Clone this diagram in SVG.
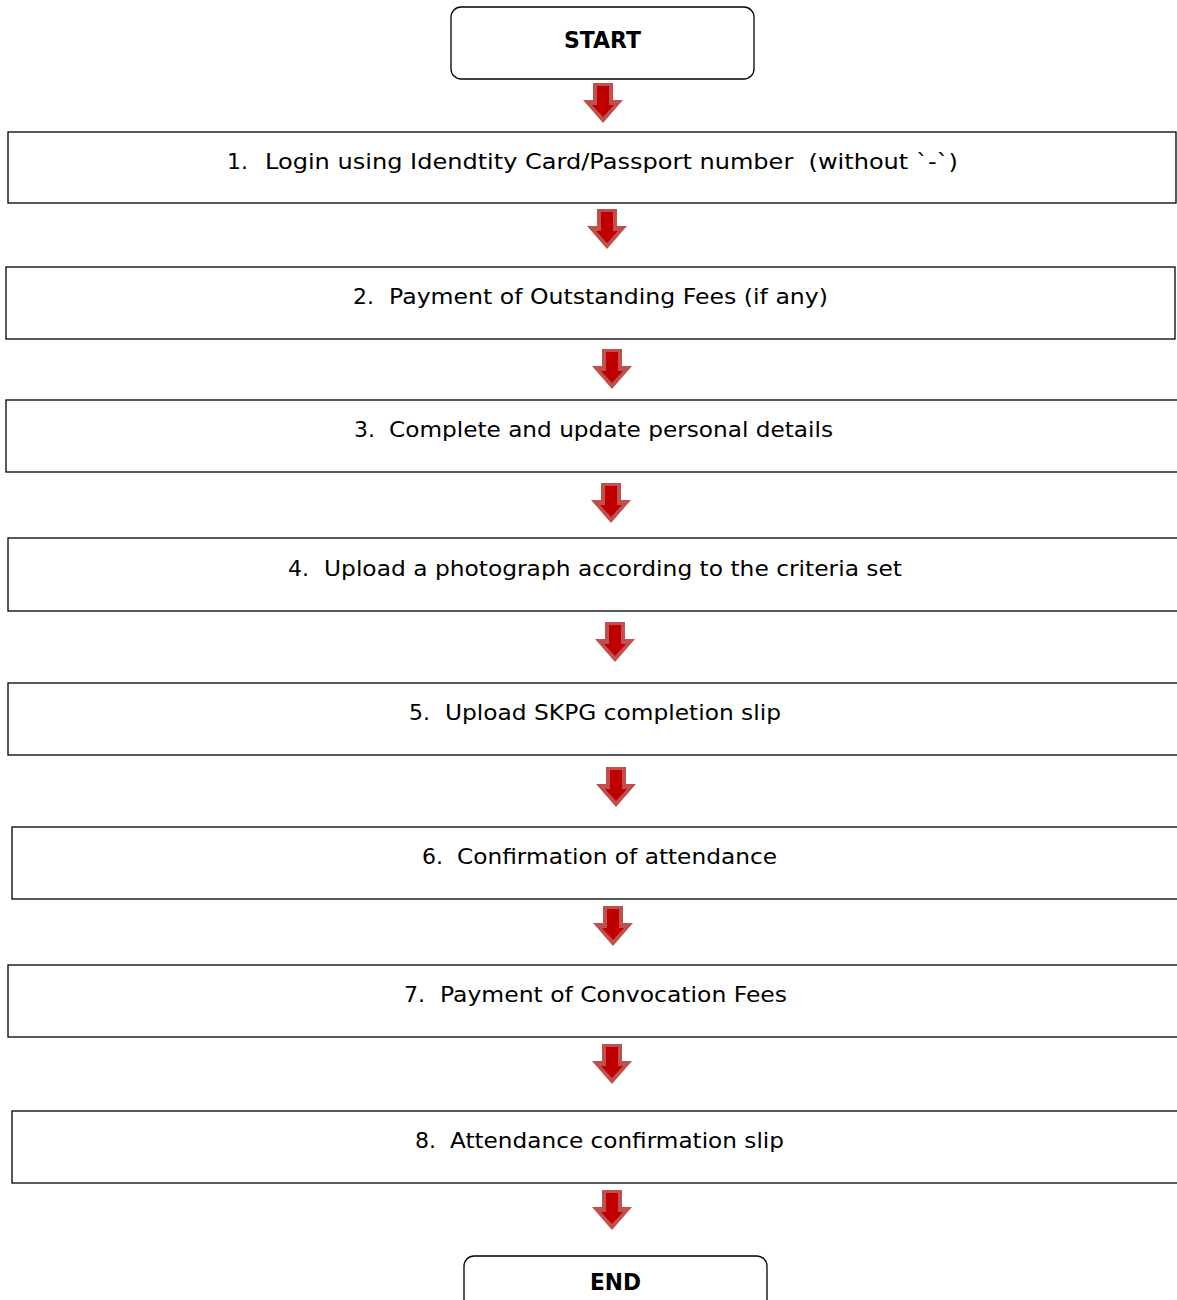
<svg xmlns="http://www.w3.org/2000/svg" width="1177" height="1300" viewBox="0 0 1177 1300">
<defs>
<style>
.box{fill:#fff;stroke:#000;stroke-width:1.3}
.t{font-family:"DejaVu Sans",Verdana,sans-serif;font-size:22px;fill:#000}
.b{font-family:"DejaVu Sans",Verdana,sans-serif;font-size:23px;font-weight:bold;fill:#000}
.ao{fill:#c0504d}
.ai{fill:#c00000}
</style>
<g id="arrow">
<polygon class="ao" points="-10,0 10,0 10,17 20,17 0,40 -20,17 -10,17"/>
<polygon class="ai" points="-6,3 6,3 6,22 11,22 0,34 -11,22 -6,22"/>
</g>
</defs>
<rect width="1177" height="1300" fill="#fff"/>
<g id="connectors">
<use href="#arrow" x="603" y="83"/>
<use href="#arrow" x="607" y="209"/>
<use href="#arrow" x="612" y="349"/>
<use href="#arrow" x="611" y="483"/>
<use href="#arrow" x="615" y="622"/>
<use href="#arrow" x="616" y="767"/>
<use href="#arrow" x="613" y="906"/>
<use href="#arrow" x="612" y="1044"/>
<use href="#arrow" x="612" y="1190"/>
</g>
<g id="start">
<rect class="box" x="451" y="7" width="303" height="72" rx="10"/>
<text class="b" x="564" y="48" textLength="77" lengthAdjust="spacingAndGlyphs">START</text>
</g>
<g id="step1">
<rect class="box" x="8" y="132" width="1168" height="71"/>
<text class="t" x="227" y="169">1.</text>
<text class="t" x="265" y="169" textLength="693" lengthAdjust="spacingAndGlyphs">Login using Idendtity Card/Passport number &#160;(without `-`)</text>
</g>
<g id="step2">
<rect class="box" x="6" y="267" width="1169" height="72"/>
<text class="t" x="353" y="304">2.</text>
<text class="t" x="389" y="304" textLength="439" lengthAdjust="spacingAndGlyphs">Payment of Outstanding Fees (if any)</text>
</g>
<g id="step3">
<rect class="box" x="6" y="400" width="1180" height="72"/>
<text class="t" x="354" y="437">3.</text>
<text class="t" x="389" y="437" textLength="444" lengthAdjust="spacingAndGlyphs">Complete and update personal details</text>
</g>
<g id="step4">
<rect class="box" x="8" y="538" width="1180" height="73"/>
<text class="t" x="288" y="576">4.</text>
<text class="t" x="324" y="576" textLength="578" lengthAdjust="spacingAndGlyphs">Upload a photograph according to the criteria set</text>
</g>
<g id="step5">
<rect class="box" x="8" y="683" width="1180" height="72"/>
<text class="t" x="409" y="720">5.</text>
<text class="t" x="445" y="720" textLength="336" lengthAdjust="spacingAndGlyphs">Upload SKPG completion slip</text>
</g>
<g id="step6">
<rect class="box" x="12" y="827" width="1176" height="72"/>
<text class="t" x="422" y="864">6.</text>
<text class="t" x="457" y="864" textLength="320" lengthAdjust="spacingAndGlyphs">Confirmation of attendance</text>
</g>
<g id="step7">
<rect class="box" x="8" y="965" width="1180" height="72"/>
<text class="t" x="404" y="1002">7.</text>
<text class="t" x="440" y="1002" textLength="347" lengthAdjust="spacingAndGlyphs">Payment of Convocation Fees</text>
</g>
<g id="step8">
<rect class="box" x="12" y="1111" width="1176" height="72"/>
<text class="t" x="415" y="1148">8.</text>
<text class="t" x="450" y="1148" textLength="334" lengthAdjust="spacingAndGlyphs">Attendance confirmation slip</text>
</g>
<g id="end">
<rect class="box" x="464" y="1256" width="303" height="72" rx="10"/>
<text class="b" x="590" y="1290" textLength="51" lengthAdjust="spacingAndGlyphs">END</text>
</g>
</svg>
